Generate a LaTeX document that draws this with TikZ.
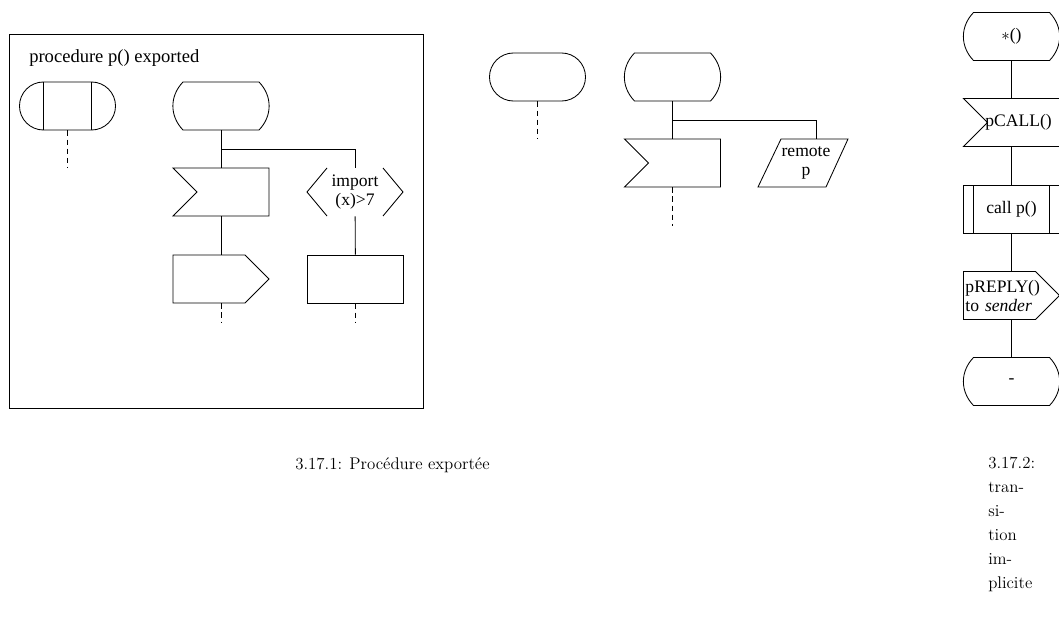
\documentclass[tikz,border=0pt]{standalone}
\usepackage{fontspec}
\usepackage{tikz}
\usetikzlibrary{calc, shapes.misc}
\newfontfamily\sdlfont{Liberation Serif}

\begin{document}
\begin{tikzpicture}[
    x=0.025cm, y=-0.025cm,
    flow/.style={line width=0.6pt},
    cont/.style={line width=0.6pt, dash pattern=on 4pt off 2.5pt},
    symnode/.style={minimum width=2.4cm, minimum height=1.2cm, inner sep=0pt, align=center, font=\sdlfont\fontsize{12.5}{13.5}\selectfont},
    taskbox/.style={symnode, draw, line width=0.6pt},
    startbox/.style={symnode, draw, line width=0.6pt, rounded rectangle},
    captext/.style={inner sep=0pt, font=\fontsize{12}{17}\selectfont\addfontfeature{LetterSpace=3}},
    sdlstate/.pic={\draw[flow] (-38,-24) -- (38,-24) .. controls (51.5,-10) and (51.5,10) .. (38,24) -- (-38,24) .. controls (-51.5,10) and (-51.5,-10) .. cycle;},
    sdlinput/.pic={\draw[flow] (-48,-24) -- (48,-24) -- (48,24) -- (-48,24) -- (-24,0) -- cycle;},
    sdloutput/.pic={\draw[flow] (-48,-24) -- (24,-24) -- (48,0) -- (24,24) -- (-48,24) -- cycle;},
    sdlcall/.pic={\draw[flow] (-48,-24) rectangle (48,24) (-38,-24) -- (-38,24) (38,-24) -- (38,24);},
    sdlcond/.pic={\draw[flow] (-28,-24) -- (-48,0) -- (-28,24) (28,-24) -- (48,0) -- (28,24);},
    sdlremote/.pic={\draw[flow] (-25,-24) -- (42,-24) -- (20,24) -- (-48,24) -- cycle;},
    sdlproc/.pic={\draw[flow] (-24,-24) -- (-24,24) (24,-24) -- (24,24);},
]
    \useasboundingbox (0,0) rectangle (1059,624);

    % exported procedure
    \draw[flow] (9,34) rectangle (423,408);
    \node[anchor=base west, inner sep=0pt, font=\sdlfont\fontsize{13.2}{14}\selectfont] (title) at (29,63) {procedure p() exported};

    \node[startbox] (ps1) at (67.5,106) {};
    \pic at (ps1) {sdlproc};
    \coordinate (d1) at (67.5,168);
    \draw[cont] (ps1) -- (d1);

    \node[symnode] (s1) at (221,106) {};
    \pic at (s1) {sdlstate};
    \node[symnode] (in1) at (221,192) {};
    \pic at (in1) {sdlinput};
    \node[symnode] (out1) at (221,279) {};
    \pic at (out1) {sdloutput};
    \node[symnode] (ec1) at (355,192) {import\\(x)>7};
    \pic at (ec1) {sdlcond};
    \node[taskbox] (t1) at (355.5,279) {};

    \draw[flow] (s1) -- (in1);
    \draw[flow] (in1) -- (out1);
    \draw[flow] ($(s1.south)!0.5!(in1.north)$) -| (ec1.north);
    \draw[flow] (ec1) -- (t1);
    \coordinate (d2) at (221,322);
    \coordinate (d3) at (355.5,322);
    \draw[cont] (out1) -- (d2);
    \draw[cont] (t1) -- (d3);

    % remote procedure
    \node[startbox] (st2) at (537.5,77) {};
    \coordinate (d4) at (537.5,139);
    \draw[cont] (st2) -- (d4);

    \node[symnode] (s2) at (672.5,77) {};
    \pic at (s2) {sdlstate};
    \node[symnode] (in2) at (672.5,163) {};
    \pic at (in2) {sdlinput};
    \node[symnode] (rp) at (806,163) {remote\\p};
    \pic at (rp) {sdlremote};

    \draw[flow] (s2) -- (in2);
    \draw[flow] ($(s2.south)!0.5!(in2.north)$) -| ($(rp.north)+(10,0)$);
    \coordinate (d5) at (672.5,226);
    \draw[cont] (in2) -- (d5);

    % implicit transition
    \node[symnode] (s3) at (1011.5,36.5) {$\ast$()};
    \pic at (s3) {sdlstate};
    \node[symnode] (in3) at (1011.5,122.5) {\hspace{10pt}pCALL()};
    \pic at (in3) {sdlinput};
    \node[symnode] (pc3) at (1011.5,209.5) {call p()};
    \pic at (pc3) {sdlcall};
    \node[symnode, text width=2.3cm, inner xsep=0.05cm, align=left] (out3) at (1011.5,295.5) {pREPLY()\\to \textit{sender}};
    \pic at (out3) {sdloutput};
    \node[symnode] (e3) at (1011.5,381.5) {-};
    \pic at (e3) {sdlstate};

    \draw[flow] (s3) -- (in3);
    \draw[flow] (in3) -- (pc3);
    \draw[flow] (pc3) -- (out3);
    \draw[flow] (out3) -- (e3);

    % captions
    \node[captext, anchor=base west] (cap1) at (295,469) {3.17.1: Procédure exportée};
    \node[captext, anchor=north west, align=left] (cap2) at (988,457) {3.17.2:\\tran-\\si-\\tion\\im-\\plicite};
\end{tikzpicture}
\end{document}
